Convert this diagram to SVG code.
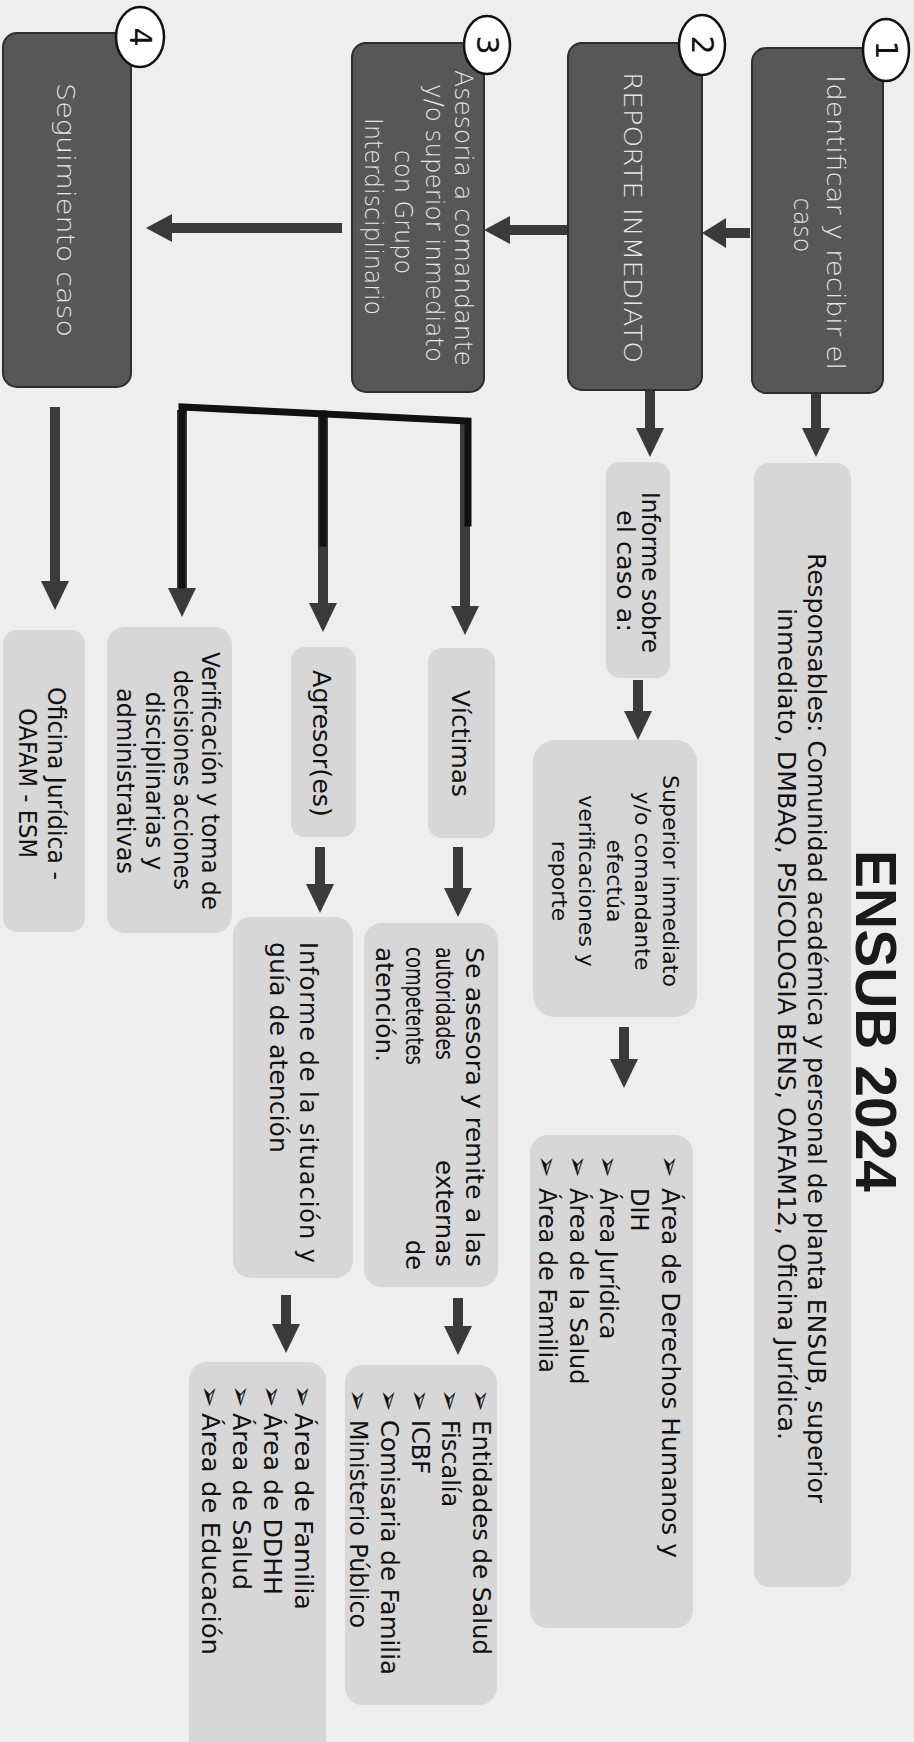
<svg xmlns="http://www.w3.org/2000/svg" width="914" height="1742" viewBox="0 0 914 1742">
<defs>
<style>
.bg{fill:#eeeeee}
.dbox{fill:#575757;stroke:#2e2e2e;stroke-width:2}
.lbox{fill:#d7d7d7}
.num{fill:#ffffff;stroke:#111;stroke-width:2.5}
.numt{font-family:"DejaVu Sans",sans-serif;font-size:30px;fill:#111;text-anchor:middle;dominant-baseline:central}
.dt{font-family:"DejaVu Sans",sans-serif;font-weight:200;font-size:24px;fill:#e6e6e6}
.lt{font-family:"DejaVu Sans",sans-serif;font-size:24px;fill:#111}
.st{font-family:"DejaVu Sans",sans-serif;font-size:22px;fill:#111}
.bul{font-family:"DejaVu Sans","Noto Sans Symbols2","Noto Sans Symbols",sans-serif;font-size:27px;fill:#111}
.title{font-family:"Liberation Sans",Arial,sans-serif;font-weight:bold;font-size:57px;fill:#1a1a1a}
.mid{text-anchor:middle}
.shaft{stroke:#3a3a3a;stroke-width:10;fill:none}
.head{fill:#3a3a3a}
.brk{stroke:#111;stroke-width:7;fill:none;stroke-linecap:square}
</style>
</defs>
<rect class="bg" x="0" y="0" width="914" height="1742"/>

<g id="connectors">
  <line class="shaft" x1="750" y1="233" x2="722" y2="233"/>
  <polygon class="head" points="702,233 726,218 726,248"/>
  <line class="shaft" x1="570" y1="230" x2="505" y2="230"/>
  <polygon class="head" points="484,230 510,216 510,244"/>
  <line class="shaft" x1="342" y1="228" x2="168" y2="228"/>
  <polygon class="head" points="146,228 172,214 172,242"/>
  <line class="shaft" x1="816" y1="393" x2="816" y2="432"/>
  <polygon class="head" points="816,457 802,428 830,428"/>
  <line class="shaft" x1="650" y1="390" x2="650" y2="432"/>
  <polygon class="head" points="650,457 636,428 664,428"/>
  <line class="shaft" x1="638" y1="680" x2="638" y2="715"/>
  <polygon class="head" points="638,740 624,711 652,711"/>
  <line class="shaft" x1="624" y1="1027" x2="624" y2="1062"/>
  <polygon class="head" points="624,1088 610,1059 638,1059"/>
  <line class="shaft" x1="55" y1="407" x2="55" y2="585"/>
  <polygon class="head" points="55,610 41,581 69,581"/>
  <line class="shaft" x1="182" y1="410" x2="182" y2="592"/>
  <polygon class="head" points="182,617 168,588 196,588"/>
  <line class="shaft" x1="323" y1="415" x2="323" y2="607"/>
  <polygon class="head" points="323,632 309,603 337,603"/>
  <line class="shaft" x1="465" y1="420" x2="465" y2="610"/>
  <polygon class="head" points="465,635 451,606 479,606"/>
  <polyline class="brk" points="182,585 182,407 468,421 468,523"/>
  <line class="brk" x1="323" y1="414" x2="323" y2="543"/>
  <line class="shaft" x1="458" y1="847" x2="458" y2="892"/>
  <polygon class="head" points="458,917 444,888 472,888"/>
  <line class="shaft" x1="320" y1="847" x2="320" y2="888"/>
  <polygon class="head" points="320,913 306,884 334,884"/>
  <line class="shaft" x1="458" y1="1298" x2="458" y2="1330"/>
  <polygon class="head" points="458,1355 444,1326 472,1326"/>
  <line class="shaft" x1="286" y1="1295" x2="286" y2="1328"/>
  <polygon class="head" points="286,1353 272,1324 300,1324"/>
</g>

<g id="step1">
  <rect class="dbox" x="752" y="48" width="131" height="345" rx="14"/>
  <text class="dt" transform="translate(827,75) rotate(90)" textLength="295" lengthAdjust="spacingAndGlyphs">Identificar y recibir el</text>
  <text class="dt mid" transform="translate(794,225) rotate(90)">caso</text>
  <ellipse class="num" cx="886" cy="50" rx="23" ry="31"/>
  <text class="numt" transform="translate(886,50) rotate(90)">1</text>
</g>

<g id="step2">
  <rect class="dbox" x="568" y="43" width="134" height="347" rx="14"/>
  <text class="dt" transform="translate(624,72) rotate(90)" textLength="291" lengthAdjust="spacingAndGlyphs">REPORTE INMEDIATO</text>
  <ellipse class="num" cx="702" cy="45" rx="23" ry="30"/>
  <text class="numt" transform="translate(702,45) rotate(90)">2</text>
</g>

<g id="step3">
  <rect class="dbox" x="352" y="43" width="132" height="349" rx="14"/>
  <text class="dt" transform="translate(455,70) rotate(90)" textLength="296" lengthAdjust="spacingAndGlyphs">Asesoria a comandante</text>
  <text class="dt" transform="translate(426,84) rotate(90)" textLength="278" lengthAdjust="spacingAndGlyphs">y/o superior inmediato</text>
  <text class="dt mid" transform="translate(395,212) rotate(90)">con Grupo</text>
  <text class="dt" transform="translate(365,118) rotate(90)" textLength="197" lengthAdjust="spacingAndGlyphs">Interdisciplinario</text>
  <ellipse class="num" cx="487" cy="45" rx="23" ry="29"/>
  <text class="numt" transform="translate(487,45) rotate(90)">3</text>
</g>

<g id="step4">
  <rect class="dbox" x="3" y="33" width="128" height="354" rx="14"/>
  <text class="dt" transform="translate(57,83) rotate(90)" textLength="254" lengthAdjust="spacingAndGlyphs">Seguimiento caso</text>
  <ellipse class="num" cx="140" cy="37" rx="24" ry="30"/>
  <text class="numt" transform="translate(140,37) rotate(90)">4</text>
</g>

<g id="title">
  <text class="title" transform="translate(856,850) rotate(90)" textLength="342" lengthAdjust="spacingAndGlyphs">ENSUB 2024</text>
</g>

<g id="responsables">
  <rect class="lbox" x="754" y="463" width="97" height="1124" rx="15"/>
  <text class="lt" transform="translate(808,553) rotate(90)" textLength="950" lengthAdjust="spacingAndGlyphs">Responsables: Comunidad académica y personal de planta ENSUB, superior</text>
  <text class="lt" transform="translate(778,608) rotate(90)" textLength="832" lengthAdjust="spacingAndGlyphs">inmediato, DMBAQ, PSICOLOGIA BENS, OAFAM12, Oficina Jurídica.</text>
</g>

<g id="informe">
  <rect class="lbox" x="606" y="462" width="64" height="216" rx="14"/>
  <text class="lt" transform="translate(642,492) rotate(90)" textLength="161" lengthAdjust="spacingAndGlyphs">Informe sobre</text>
  <text class="lt" transform="translate(617,510) rotate(90)" textLength="122" lengthAdjust="spacingAndGlyphs">el caso a:</text>
</g>

<g id="superior">
  <rect class="lbox" x="533" y="740" width="164" height="277" rx="22"/>
  <text class="st" transform="translate(663,775) rotate(90)" textLength="212" lengthAdjust="spacingAndGlyphs">Superior inmediato</text>
  <text class="st mid" transform="translate(635,881) rotate(90)">y/o comandante</text>
  <text class="st mid" transform="translate(607,881) rotate(90)">efectúa</text>
  <text class="st mid" transform="translate(579,881) rotate(90)">verificaciones y</text>
  <text class="st mid" transform="translate(552,881) rotate(90)">reporte</text>
</g>

<g id="areas1">
  <rect class="lbox" x="530" y="1135" width="163" height="493" rx="18"/>
  <text class="bul" transform="translate(661,1155) rotate(90)">➢</text>
  <text class="lt" transform="translate(662,1188) rotate(90)" textLength="370" lengthAdjust="spacingAndGlyphs">Área de Derechos Humanos y</text>
  <text class="lt" transform="translate(631,1188) rotate(90)">DIH</text>
  <text class="bul" transform="translate(599,1155) rotate(90)">➢</text>
  <text class="lt" transform="translate(600,1188) rotate(90)">Área Jurídica</text>
  <text class="bul" transform="translate(569,1155) rotate(90)">➢</text>
  <text class="lt" transform="translate(570,1188) rotate(90)">Área de la Salud</text>
  <text class="bul" transform="translate(538,1155) rotate(90)">➢</text>
  <text class="lt" transform="translate(539,1188) rotate(90)">Área de Familia</text>
</g>

<g id="victimas">
  <rect class="lbox" x="428" y="648" width="67" height="190" rx="14"/>
  <text class="lt" transform="translate(452,690) rotate(90)" textLength="107" lengthAdjust="spacingAndGlyphs">Víctimas</text>
</g>

<g id="agresor">
  <rect class="lbox" x="291" y="647" width="65" height="190" rx="14"/>
  <text class="lt" transform="translate(313,670) rotate(90)" textLength="147" lengthAdjust="spacingAndGlyphs">Agresor(es)</text>
</g>

<g id="verificacion">
  <rect class="lbox" x="107" y="627" width="125" height="306" rx="18"/>
  <text class="lt" transform="translate(202,652) rotate(90)" textLength="258" lengthAdjust="spacingAndGlyphs">Verificación y toma de</text>
  <text class="lt" transform="translate(174,670) rotate(90)" textLength="220" lengthAdjust="spacingAndGlyphs">decisiones acciones</text>
  <text class="lt mid" transform="translate(146,781) rotate(90)">disciplinarias y</text>
  <text class="lt mid" transform="translate(117,781) rotate(90)">administrativas</text>
</g>

<g id="oficina">
  <rect class="lbox" x="3" y="630" width="82" height="302" rx="14"/>
  <text class="lt" transform="translate(48,687) rotate(90)" textLength="193" lengthAdjust="spacingAndGlyphs">Oficina Jurídica -</text>
  <text class="lt" transform="translate(19,708) rotate(90)" textLength="150" lengthAdjust="spacingAndGlyphs">OAFAM - ESM</text>
</g>

<g id="asesora">
  <rect class="lbox" x="364" y="923" width="134" height="364" rx="18"/>
  <text class="lt" transform="translate(466,947) rotate(90)" textLength="320" lengthAdjust="spacingAndGlyphs">Se asesora y remite a las</text>
  <text class="lt" transform="translate(436,947) rotate(90)" textLength="113" lengthAdjust="spacingAndGlyphs">autoridades</text>
  <text class="lt" transform="translate(436,1160) rotate(90)" textLength="107" lengthAdjust="spacingAndGlyphs">externas</text>
  <text class="lt" transform="translate(406,947) rotate(90)" textLength="118" lengthAdjust="spacingAndGlyphs">competentes</text>
  <text class="lt" transform="translate(406,1240) rotate(90)">de</text>
  <text class="lt" transform="translate(376,947) rotate(90)" textLength="115" lengthAdjust="spacingAndGlyphs">atención.</text>
</g>

<g id="informe-situacion">
  <rect class="lbox" x="233" y="917" width="120" height="361" rx="18"/>
  <text class="lt" transform="translate(300,942) rotate(90)" textLength="321" lengthAdjust="spacing">Informe de la situación y</text>
  <text class="lt" transform="translate(270,942) rotate(90)" textLength="211" lengthAdjust="spacingAndGlyphs">guía de atención</text>
</g>

<g id="entidades">
  <rect class="lbox" x="345" y="1365" width="152" height="340" rx="18"/>
  <text class="bul" transform="translate(472,1389) rotate(90)">➢</text>
  <text class="lt" transform="translate(473,1420) rotate(90)" textLength="235" lengthAdjust="spacingAndGlyphs">Entidades de Salud</text>
  <text class="bul" transform="translate(441,1389) rotate(90)">➢</text>
  <text class="lt" transform="translate(442,1420) rotate(90)">Fiscalía</text>
  <text class="bul" transform="translate(411,1389) rotate(90)">➢</text>
  <text class="lt" transform="translate(412,1420) rotate(90)">ICBF</text>
  <text class="bul" transform="translate(380,1389) rotate(90)">➢</text>
  <text class="lt" transform="translate(381,1420) rotate(90)" textLength="255" lengthAdjust="spacingAndGlyphs">Comisaria de Familia</text>
  <text class="bul" transform="translate(349,1389) rotate(90)">➢</text>
  <text class="lt" transform="translate(350,1420) rotate(90)" textLength="208" lengthAdjust="spacingAndGlyphs">Ministerio Público</text>
</g>

<g id="areas2">
  <rect class="lbox" x="189" y="1362" width="137" height="400" rx="18"/>
  <text class="bul" transform="translate(294,1385) rotate(90)">➢</text>
  <text class="lt" transform="translate(295,1413) rotate(90)" textLength="197" lengthAdjust="spacingAndGlyphs">Área de Familia</text>
  <text class="bul" transform="translate(263,1385) rotate(90)">➢</text>
  <text class="lt" transform="translate(264,1413) rotate(90)" textLength="182" lengthAdjust="spacingAndGlyphs">Área de DDHH</text>
  <text class="bul" transform="translate(232,1385) rotate(90)">➢</text>
  <text class="lt" transform="translate(233,1413) rotate(90)" textLength="177" lengthAdjust="spacingAndGlyphs">Área de Salud</text>
  <text class="bul" transform="translate(201,1385) rotate(90)">➢</text>
  <text class="lt" transform="translate(202,1413) rotate(90)" textLength="242" lengthAdjust="spacingAndGlyphs">Área de Educación</text>
</g>
</svg>
